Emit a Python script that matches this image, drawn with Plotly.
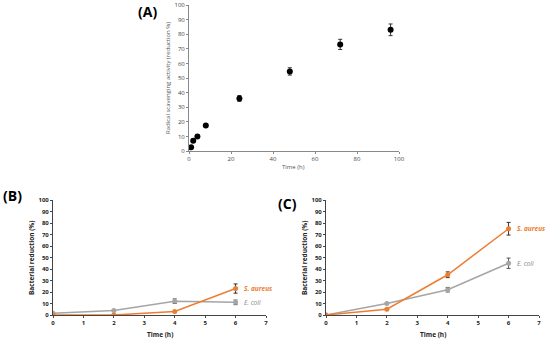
import plotly.graph_objects as go

# Panel A data
a_time = [1, 2, 4, 8, 24, 48, 72, 96]
a_value = [2.5, 7, 10, 17.5, 36, 54.5, 73, 83]
a_err = [0.5, 0.5, 0.8, 0.8, 2, 2.5, 3.5, 4]

# Panel B / C data
bc_time = [0, 2, 4, 6]
b_saureus = [0, 0, 3, 23]
b_saureus_err = [0, 0, 0.5, 4]
b_ecoli = [1.5, 4, 12, 11]
b_ecoli_err = [0.5, 0.5, 2, 2]
c_saureus = [0, 5, 35, 75]
c_saureus_err = [0, 0.5, 2.5, 5.5]
c_ecoli = [0, 10, 22, 45]
c_ecoli_err = [0, 0.5, 2, 4.5]

ORANGE = "#ED7D31"
GRAY = "#A5A5A5"

fig = go.Figure()

fig.add_trace(go.Scatter(
    x=a_time, y=a_value, mode="markers",
    marker=dict(color="black", size=6),
    error_y=dict(type="data", array=a_err, color="#333", thickness=1, width=2),
    xaxis="x", yaxis="y", showlegend=False))

for xa, ya, ys, yse, ye, yee in [("x2", "y2", b_saureus, b_saureus_err, b_ecoli, b_ecoli_err),
                                  ("x3", "y3", c_saureus, c_saureus_err, c_ecoli, c_ecoli_err)]:
    fig.add_trace(go.Scatter(
        x=bc_time, y=ye, mode="lines+markers",
        line=dict(color=GRAY, width=1.5), marker=dict(color=GRAY, size=5),
        error_y=dict(type="data", array=yee, color="#555", thickness=1, width=2),
        xaxis=xa, yaxis=ya, showlegend=False))
    fig.add_trace(go.Scatter(
        x=bc_time, y=ys, mode="lines+markers",
        line=dict(color=ORANGE, width=1.5), marker=dict(color=ORANGE, size=5),
        error_y=dict(type="data", array=yse, color="#333", thickness=1, width=2),
        xaxis=xa, yaxis=ya, showlegend=False))

FONT = "Open Sans, Arial"
tickfont = dict(family=FONT, size=6, color="#444")
boldtick = dict(family=FONT, size=6, color="#222")
axcommon = dict(showgrid=False, zeroline=False, showline=True, ticks="outside",
                ticklen=2, tickwidth=1, automargin=False)
boldax = dict(linecolor="#444", tickcolor="#444", tickfont=boldtick,
              tickprefix="<b>", ticksuffix="</b>", **axcommon)

layout = dict(
    template="none",
    width=550, height=340, margin=dict(l=0, r=0, t=0, b=0),
    paper_bgcolor="white", plot_bgcolor="white",
    xaxis=dict(domain=[189/550, 399/550], range=[0, 100], dtick=20, anchor="y",
               linecolor="#888", tickcolor="#888", tickfont=tickfont, **axcommon),
    yaxis=dict(domain=[1-151/340, 1-5/340], range=[0, 100], dtick=10, anchor="x",
               linecolor="#888", tickcolor="#888", tickfont=tickfont, **axcommon),
    xaxis2=dict(domain=[53/550, 266/550], range=[0, 7], dtick=1, anchor="y2", **boldax),
    yaxis2=dict(domain=[1-315/340, 1-200/340], range=[0, 100], dtick=10, anchor="x2", **boldax),
    xaxis3=dict(domain=[326/550, 539/550], range=[0, 7], dtick=1, anchor="y3", **boldax),
    yaxis3=dict(domain=[1-315/340, 1-200/340], range=[0, 100], dtick=10, anchor="x3", **boldax),
)
fig.update_layout(**layout)


def paper(text, px, py, size, color, angle=0):
    return dict(text=text, x=px/550, y=1-py/340, xref="paper", yref="paper",
                xanchor="center", yanchor="middle",
                showarrow=False, textangle=angle,
                font=dict(family=FONT, size=size, color=color))


annos = [
    paper("<b>(A)</b>", 147, 12, 14, "black"),
    paper("<b>(B)</b>", 12, 195, 14, "black"),
    paper("<b>(C)</b>", 287, 203, 14, "black"),
    paper("Radical scavenging activity (reduction %)", 168, 78, 6, "#555", -90),
    paper("Time (h)", 293, 167, 6, "#555"),
    paper("<b>Bacterial reduction (%)</b>", 31, 258, 6.5, "#222", -90),
    paper("<b>Time (h)</b>", 160, 334, 6.5, "#222"),
    paper("<b>Bacterial reduction (%)</b>", 304, 258, 6.5, "#222", -90),
    paper("<b>Time (h)</b>", 433, 334, 6.5, "#222"),
    dict(text="<b><i>S. aureus</i></b>", x=6, y=b_saureus[3], xref="x2", yref="y2",
         xanchor="left", yanchor="middle", xshift=6, showarrow=False,
         font=dict(family=FONT, size=6.5, color=ORANGE)),
    dict(text="<i>E. coli</i>", x=6, y=b_ecoli[3], xref="x2", yref="y2",
         xanchor="left", yanchor="middle", xshift=6, showarrow=False,
         font=dict(family=FONT, size=6.5, color="#888")),
    dict(text="<b><i>S. aureus</i></b>", x=6, y=c_saureus[3], xref="x3", yref="y3",
         xanchor="left", yanchor="middle", xshift=6, showarrow=False,
         font=dict(family=FONT, size=6.5, color=ORANGE)),
    dict(text="<i>E. coli</i>", x=6, y=c_ecoli[3], xref="x3", yref="y3",
         xanchor="left", yanchor="middle", xshift=6, showarrow=False,
         font=dict(family=FONT, size=6.5, color="#888")),
]
fig.update_layout(annotations=annos)

fig.write_html("out.html", config={"displayModeBar": False},
               post_script="document.body.style.margin='0';document.body.style.overflow='hidden';")
